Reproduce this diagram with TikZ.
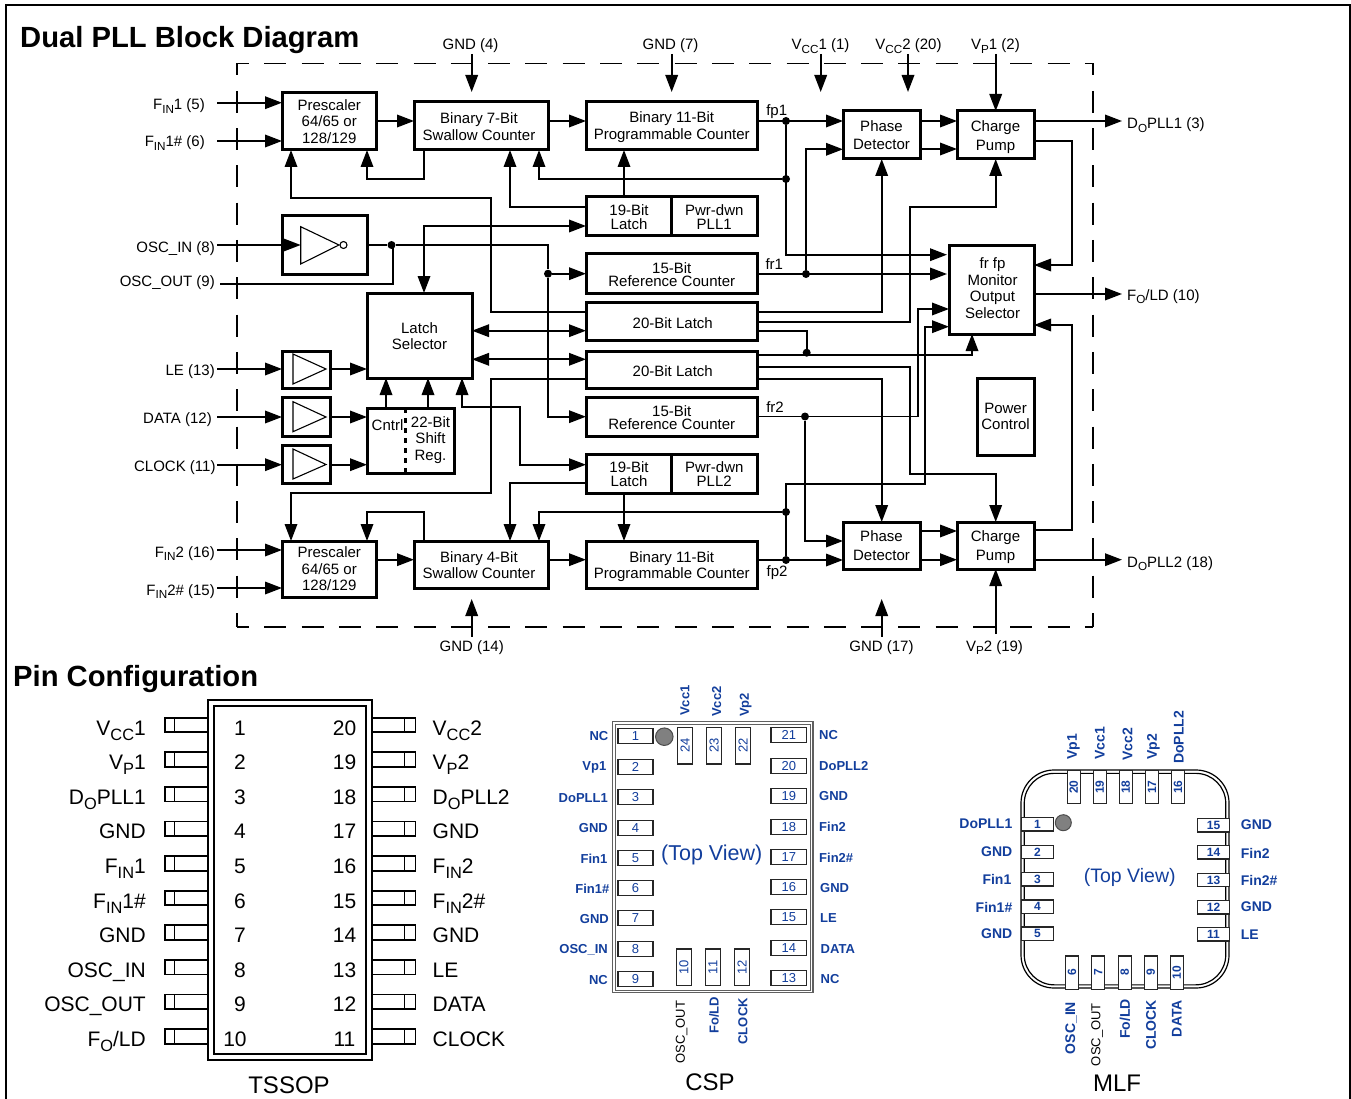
\documentclass[tikz,border=0pt]{standalone}
\usepackage{fontspec}
\setmainfont{Liberation Sans}
\usetikzlibrary{arrows.meta,calc}
\definecolor{pinblue}{HTML}{123E9C}
\definecolor{dotgrey}{HTML}{808080}
\definecolor{pkggrey}{HTML}{606060}
\newcommand{\sbx}[1]{\raisebox{-0.24em}{\scalebox{0.78}{#1}}}
% box from corner coordinates; optional keys act on its text
\newcommand{\bx}[7][]{%
  \pgfmathsetmacro{\bxw}{#5-#3}\pgfmathsetmacro{\bxh}{#6-#4}%
  \node[blk,minimum width=\bxw pt,minimum height=\bxh pt] (#2) at ({(#3+#5)/2},{(#4+#6)/2}) {};
  \node[blktext,#1] (#2-t) at (#2.center) {#7};}
\newcommand{\pad}[6]{%
  \pgfmathsetmacro{\bxw}{#4-#2}\pgfmathsetmacro{\bxh}{#5-#3}%
  \node[padbox,minimum width=\bxw pt,minimum height=\bxh pt] (#1) at ({(#2+#4)/2},{(#3+#5)/2}) {#6};}
\newcommand{\vpad}[6]{%
  \pgfmathsetmacro{\bxw}{#4-#2}\pgfmathsetmacro{\bxh}{#5-#3}%
  \node[padbox,minimum width=\bxw pt,minimum height=\bxh pt] (#1) at ({(#2+#4)/2},{(#3+#5)/2}) {\rotatebox{90}{#6}};}
\newcommand{\mpadh}[6]{%
  \pgfmathsetmacro{\bxw}{#4-#2}\pgfmathsetmacro{\bxh}{#5-#3}%
  \node[padbox,mfont,minimum width=\bxw pt,minimum height=\bxh pt] (#1) at ({(#2+#4)/2},{(#3+#5)/2}) {#6};}
\newcommand{\mpadv}[6]{%
  \pgfmathsetmacro{\bxw}{#4-#2}\pgfmathsetmacro{\bxh}{#5-#3}%
  \node[padbox,mfont,minimum width=\bxw pt,minimum height=\bxh pt] (#1) at ({(#2+#4)/2},{(#3+#5)/2}) {\rotatebox{90}{#6}};}
% one row of the TSSOP: index, left label, left number, number x, right number, right label
\newcommand{\tsrow}[6]{%
  \pgfmathsetmacro{\yc}{725+34.6*(#1-1)}%
  \node[tslab,anchor=base east] (tl#3) at (146,\yc+10) {#2};
  \node[tslab,anchor=base] (tn#3) at (#4,\yc+10) {#3};
  \node[tslab,anchor=base] (tm#5) at (344.5,\yc+10) {#5};
  \node[tslab,anchor=base west] (tr#5) at (432.5,\yc+10) {#6};
  \draw[pinline] (tsout.west |- 0,\yc-7.3) -- (165,\yc-7.3) -- (165,\yc+7.3) -- (tsout.west |- 0,\yc+7.3) (174.5,\yc-7.3) -- (174.5,\yc+7.3);
  \draw[pinline] (tsout.east |- 0,\yc-7.3) -- (415.5,\yc-7.3) -- (415.5,\yc+7.3) -- (tsout.east |- 0,\yc+7.3) (404.5,\yc-7.3) -- (404.5,\yc+7.3);}
\tikzset{
  lh/.style={font=\fontsize{15}{#1}\selectfont},
  blk/.style={draw=black,line width=3pt,inner sep=0pt,outer sep=0pt},
  blktext/.style={inner sep=0pt,outer sep=0pt,align=center,lh=16},
  arr/.style={line width=1.8pt,-{Triangle[length=17pt,width=12.5pt]}},
  dbl/.style={line width=1.8pt,{Triangle[length=17pt,width=12.5pt]}-{Triangle[length=17pt,width=12.5pt]}},
  wire/.style={line width=1.8pt},
  dot/.style={circle,fill=black,inner sep=0pt,minimum size=8pt},
  lab/.style={font=\fontsize{15}{16}\selectfont,inner sep=0pt},
  dashfr/.style={line width=1.4pt,dash pattern=on 22pt off 15.3pt,dash phase=10pt},
  tri/.style={line width=1.1pt,fill=white,line join=miter},
  tslab/.style={font=\fontsize{21}{22}\selectfont,inner sep=0pt},
  pinline/.style={line width=1.7pt},
  padbox/.style={draw=black!85,line width=1.1pt,inner sep=0pt,outer sep=0pt,fill=white,text=pinblue,font=\fontsize{13}{14}\selectfont},
  mfont/.style={font=\bfseries\fontsize{12}{13}\selectfont},
  blab/.style={text=pinblue,font=\bfseries\fontsize{13}{14}\selectfont,inner sep=0pt},
  mlab/.style={text=pinblue,font=\bfseries\fontsize{14}{15}\selectfont,inner sep=0pt},
  glab/.style={font=\fontsize{13}{14}\selectfont,inner sep=0pt},
  pkg/.style={font=\fontsize{24}{25}\selectfont,inner sep=0pt},
}
\begin{document}
\begin{tikzpicture}[x=1pt,y=-1pt]
\useasboundingbox (0,0) rectangle (1351,1099);
% page frame (open at the bottom)
\draw[line width=2pt] (6,1099) -- (6,5) -- (1350,5) -- (1350,1099);
% titles
\node[anchor=base west,inner sep=0pt,font=\bfseries\fontsize{29.2}{30}\selectfont] (title1) at (20,48) {Dual PLL Block Diagram};
\node[anchor=base west,inner sep=0pt,font=\bfseries\fontsize{29.2}{30}\selectfont] (title2) at (13,686) {Pin Configuration};
% dashed chip outline
\coordinate (dtl) at (237,63.5);\coordinate (dtr) at (1093,63.5);\coordinate (dbl) at (237,627);\coordinate (dbr) at (1093,627);
\draw[dashfr] (dtl) -- (dtr);\draw[dashfr] (dtl) -- (dbl);\draw[dashfr] (dbl) -- (dbr);\draw[dashfr] (dtr) -- (dbr);
% blocks
\bx[lh=16.5]{pre1}{282}{93}{376.5}{150}{Prescaler\\64/65 or\\128/129}
\bx[lh=17,xshift=-2pt,yshift=-1pt]{sw1}{414}{102}{548}{150}{Binary 7-Bit\\Swallow Counter}
\bx[lh=17,yshift=-1.5pt]{pc1}{586}{102}{757.5}{150}{Binary 11-Bit\\Programmable Counter}
\bx{inv}{282}{216}{367.5}{274}{}
\bx[yshift=-1pt]{sel}{367}{293}{472}{378}{Latch\\Selector}
\bx[lh=14,xshift=.5pt,yshift=-1pt]{lt1}{586}{197}{671}{235.5}{19-Bit\\Latch}
\bx[lh=14,yshift=-1pt]{pd1}{671}{197}{757.5}{235.5}{Pwr-dwn\\PLL1}
\bx[lh=13,yshift=-1pt]{ref1}{586}{254}{757.5}{293}{15-Bit\\Reference Counter}
\bx[xshift=1pt,yshift=-1.5pt]{lat1}{586}{302.5}{757.5}{340.5}{20-Bit Latch}
\bx[xshift=1pt,yshift=-1pt]{lat2}{586}{351}{757.5}{388.5}{20-Bit Latch}
\bx[lh=13,yshift=-1pt]{ref2}{586}{397}{757.5}{436}{15-Bit\\Reference Counter}
\bx[lh=14,xshift=.5pt,yshift=-1pt]{lt2}{586}{454}{671}{493}{19-Bit\\Latch}
\bx[lh=14,yshift=-1pt]{pd2}{671}{454}{757.5}{493}{Pwr-dwn\\PLL2}
\bx[lh=16,yshift=-2pt]{pc2}{586}{541}{757.5}{588}{Binary 11-Bit\\Programmable Counter}
\bx[lh=16.5]{pre2}{282}{541}{376.5}{597}{Prescaler\\64/65 or\\128/129}
\bx[lh=16,xshift=-2pt,yshift=-1pt]{sw2}{414}{541}{548}{588}{Binary 4-Bit\\Swallow Counter}
\bx[lh=18.5]{ph1}{843}{111}{920}{159}{Phase\\Detector}
\bx[lh=18.5,yshift=-2pt]{cp1}{957}{111}{1034}{159}{Charge\\Pump}
\bx[lh=18.5]{ph2}{843}{522}{920}{569}{Phase\\Detector}
\bx[lh=18.5,yshift=-1.5pt]{cp2}{957}{522}{1034}{569}{Charge\\Pump}
\bx[lh=16.5,xshift=1pt,yshift=2pt]{mon}{949}{246}{1034}{334}{fr fp\\Monitor\\Output\\Selector}
\bx[lh=16.5]{pwr}{977}{378}{1034}{455}{Power\\Control}
\bx{buf1}{282}{351}{330}{388}{}
\bx{buf2}{282}{397}{330}{436}{}
\bx{buf3}{282}{445}{330}{483}{}
\bx{shr}{367}{408}{454}{473}{}
\node[lab] (cntrl) at (387.5,425) {Cntrl};
\node[lab,align=center,lh=16.7] (sreg) at (430.5,440) {22-Bit\\Shift\\Reg.};
\draw[line width=3pt,dash pattern=on 5pt off 5pt] (shr.north -| 405.7,0) -- (shr.south -| 405.7,0);
% buffer triangles
\draw[tri] (300.7,226.7) -- (339,245) -- (300.7,264) -- cycle;
\node[circle,draw,line width=1.1pt,minimum size=7pt,inner sep=0pt] (bub) at (343.5,245) {};
\draw[tri] (293,354) -- (326,369) -- (293,384) -- cycle;
\draw[tri] (293,401.7) -- (326,417) -- (293,431.7) -- cycle;
\draw[tri] (293,449) -- (326,464.5) -- (293,479) -- cycle;
% junctions
\node[dot] (j1) at (786,121) {};
\node[dot] (j2) at (786,179) {};
\node[dot] (j3) at (806,274) {};
\node[dot] (j4) at (391.5,245) {};
\node[dot] (j5) at (548,273.7) {};
\node[dot] (j6) at (806.7,352.7) {};
\node[dot] (j7) at (805,416.5) {};
\node[dot] (j8) at (786,512) {};
\node[dot] (j9) at (786,560) {};
% pin stubs, free ends
\coordinate (sfin1) at (217,102.7);\coordinate (sfin1n) at (217,141);
\coordinate (sosci) at (217,245);\coordinate (sosco) at (220,284);
\coordinate (sle) at (217,369);\coordinate (sdata) at (217,417);\coordinate (sclk) at (217,464.7);
\coordinate (sfin2) at (217,550);\coordinate (sfin2n) at (217,588);
\coordinate (sg4) at (471.7,54);\coordinate (tg4) at (471.7,92);
\coordinate (sg7) at (671.7,54);\coordinate (tg7) at (671.7,92);
\coordinate (svc1) at (820.7,54);\coordinate (tvc1) at (820.7,92);
\coordinate (svc2) at (908,54);\coordinate (tvc2) at (908,92);
\coordinate (svp1) at (995.7,54);
\coordinate (sg14) at (471.7,636.7);\coordinate (tg14) at (471.7,599);
\coordinate (sg17) at (881.7,636.7);\coordinate (tg17) at (881.7,599);
\coordinate (svp2) at (995.7,634);
\coordinate (odo1) at (1122,121);\coordinate (ofo) at (1122,294);\coordinate (odo2) at (1122,559.7);
% input pins
\draw[arr] (sfin1) -- (pre1.west |- sfin1);
\draw[arr] (sfin1n) -- (pre1.west |- sfin1n);
\draw[arr] (sosci) -- (300.7,245);
\draw[wire] (sosco) -- (393,284) -- (393,245);
\draw[arr] (sle) -- (buf1.west |- sle);
\draw[arr] (sdata) -- (buf2.west |- sdata);
\draw[arr] (sclk) -- (buf3.west |- sclk);
\draw[arr] (sfin2) -- (pre2.west |- sfin2);
\draw[arr] (sfin2n) -- (pre2.west |- sfin2n);
\draw[arr] (sg4) -- (tg4);\draw[arr] (sg7) -- (tg7);\draw[arr] (svc1) -- (tvc1);\draw[arr] (svc2) -- (tvc2);
\draw[arr] (svp1) -- (cp1.north -| svp1);
\draw[arr] (sg14) -- (tg14);\draw[arr] (sg17) -- (tg17);
\draw[arr] (svp2) -- (cp2.south -| svp2);
% counter chains
\draw[arr] (pre1.east |- 0,121) -- (sw1.west |- 0,121);
\draw[arr] (sw1.east |- 0,121) -- (pc1.west |- 0,121);
\draw[arr] (pre2.east |- 0,559.7) -- (sw2.west |- 0,559.7);
\draw[arr] (sw2.east |- 0,559.7) -- (pc2.west |- 0,559.7);
% feedback loops
\draw[arr] (sw1.south -| 424,0) -- (424,179) -- (367,179) -- (pre1.south -| 367,0);
\draw[arr] (sw2.north -| 424,0) -- (424,512) -- (367,512) -- (pre2.north -| 367,0);
\draw[arr] (j2) -- (539,179) -- (sw1.south -| 539,0);
\draw[arr] (j8) -- (539,512) -- (sw2.north -| 539,0);
% latch links
\draw[arr] (lt1.north -| 624,0) -- (pc1.south -| 624,0);
\draw[arr] (lt2.south -| 624,0) -- (pc2.north -| 624,0);
\draw[arr] (lt1.west |- 0,206.7) -- (510,206.7) -- (sw1.south -| 510,0);
\draw[arr] (lt2.west |- 0,483) -- (510,483) -- (sw2.north -| 510,0);
\draw[arr] (lat1.west |- 0,311.7) -- (491,311.7) -- (491,197.7) -- (291,197.7) -- (pre1.south -| 291,0);
\draw[arr] (lat2.west |- 0,379) -- (491,379) -- (491,493) -- (291,493) -- (pre2.north -| 291,0);
\draw[dbl] (sel.north -| 424,0) -- (424,226) -- (lt1.west |- 0,226);
\draw[dbl] (sel.east |- 0,330.7) -- (lat1.west |- 0,330.7);
\draw[dbl] (sel.east |- 0,359.3) -- (lat2.west |- 0,359.3);
\draw[dbl] (lt2.west |- 0,464.7) -- (520,464.7) -- (520,406.7) -- (462,406.7) -- (sel.south -| 462,0);
\draw[arr] (shr.north -| 386,0) -- (sel.south -| 386,0);
\draw[arr] (shr.north -| 428,0) -- (sel.south -| 428,0);
% buffers to logic
\draw[arr] (buf1.east |- sle) -- (sel.west |- sle);
\draw[arr] (buf2.east |- sdata) -- (shr.west |- sdata);
\draw[arr] (buf3.east |- sclk) -- (shr.west |- sclk);
% oscillator
\draw[wire] (inv.east |- j4) -- (j4) -- (548,245) -- (j5);
\draw[arr] (j5) -- (ref1.west |- j5);
\draw[arr] (j5) -- (548,416.7) -- (ref2.west |- 0,416.7);
% phase detector 1 inputs
\draw[arr] (pc1.east |- j1) -- (ph1.west |- j1);
\draw[arr,shorten >=2pt] (j1) -- (786,254.7) -- (mon.west |- 0,254.7);
\draw[arr,shorten >=2pt] (ref1.east |- j3) -- (mon.west |- j3);
\draw[arr] (j3) -- (806,149.3) -- (ph1.west |- 0,149.3);
\draw[arr] (lat1.east |- 0,311.7) -- (881.7,311.7) -- (ph1.south -| 881.7,0);
\draw[arr] (lat1.east |- 0,322.3) -- (910,322.3) -- (910,206.7) -- (995.7,206.7) -- (cp1.south -| 995.7,0);
\draw[wire] (lat1.east |- 0,331) -- (806.7,331) -- (j6);
\draw[arr] (lat2.east |- 0,355) -- (972,355) -- (mon.south -| 972,0);
\draw[arr] (lat2.east |- 0,366.7) -- (910,366.7) -- (910,474) -- (995.7,474) -- (cp2.north -| 995.7,0);
\draw[arr] (lat2.east |- 0,378.7) -- (881.7,378.7) -- (ph2.north -| 881.7,0);
% reference 2 and fp2
\draw[arr] (ref2.east |- j7) -- (918,416.5) -- (918,309) -- (mon.west |- 0,309);
\draw[arr] (j7) -- (805,541) -- (ph2.west |- 0,541);
\draw[arr] (pc2.east |- j9) -- (ph2.west |- j9);
\draw[arr] (j9) -- (786,484) -- (925,484) -- (925,326.7) -- (mon.west |- 0,326.7);
% detector to pump
\draw[arr] (ph1.east |- 0,121) -- (cp1.west |- 0,121);
\draw[arr] (ph1.east |- 0,149) -- (cp1.west |- 0,149);
\draw[arr] (ph2.east |- 0,531) -- (cp2.west |- 0,531);
\draw[arr] (ph2.east |- 0,559.7) -- (cp2.west |- 0,559.7);
% outputs
\draw[arr] (cp1.east |- odo1) -- (odo1);
\draw[arr] (mon.east |- ofo) -- (ofo);
\draw[arr] (cp2.east |- odo2) -- (odo2);
\draw[arr] (cp1.east |- 0,140.7) -- (1072,140.7) -- (1072,265) -- (mon.east |- 0,265);
\draw[arr] (cp2.east |- 0,530) -- (1072,530) -- (1072,325) -- (mon.east |- 0,325);
% pin labels of the block diagram
\node[lab,anchor=base east] (lf1) at (205,109.5) {F\sbx{IN}1 (5)};
\node[lab,anchor=base east] (lf1n) at (205,147) {F\sbx{IN}1\# (6)};
\node[lab,anchor=base east] (losci) at (215,252.5) {OSC\_IN (8)};
\node[lab,anchor=base east] (losco) at (215,286) {OSC\_OUT (9)};
\node[lab,anchor=base east] (lle) at (215,375.5) {LE (13)};
\node[lab,anchor=base east] (ldata) at (212,423) {DATA (12)};
\node[lab,anchor=base east] (lclk) at (215.7,471) {CLOCK (11)};
\node[lab,anchor=base east] (lf2) at (215,557) {F\sbx{IN}2 (16)};
\node[lab,anchor=base east] (lf2n) at (215,595) {F\sbx{IN}2\# (15)};
\node[lab,anchor=base] (lg4) at (470.5,49.5) {GND (4)};
\node[lab,anchor=base] (lg7) at (670.5,49.5) {GND (7)};
\node[lab,anchor=base] (lvc1) at (820.5,49.5) {V\sbx{CC}1 (1)};
\node[lab,anchor=base] (lvc2) at (908.5,49.5) {V\sbx{CC}2 (20)};
\node[lab,anchor=base] (lvp1) at (995.5,49.5) {V\sbx{P}1 (2)};
\node[lab,anchor=base] (lg14) at (471.7,651) {GND (14)};
\node[lab,anchor=base] (lg17) at (881.5,651) {GND (17)};
\node[lab,anchor=base] (lvp2) at (994.5,651) {V\sbx{P}2 (19)};
\node[lab,anchor=base west] (ldo1) at (1127,129) {D\sbx{O}PLL1 (3)};
\node[lab,anchor=base west] (lfo) at (1127,300) {F\sbx{O}/LD (10)};
\node[lab,anchor=base west] (ldo2) at (1127,567) {D\sbx{O}PLL2 (18)};
\node[lab] (fp1) at (776.7,111.5) {fp1};
\node[lab] (fr1) at (774.3,263.7) {fr1};
\node[lab] (fr2) at (775,407) {fr2};
\node[lab] (fp2) at (777,572.5) {fp2};
% TSSOP
\node[draw,line width=2pt,minimum width=164pt,minimum height=360pt,outer sep=0pt,inner sep=0pt] (tsout) at (290,880) {};
\node[draw,line width=2pt,minimum width=151.5pt,minimum height=348.5pt,outer sep=0pt,inner sep=0pt] (tsin) at (290.2,880.2) {};
\tsrow{1}{V\sbx{CC}1}{1}{240}{20}{V\sbx{CC}2}
\tsrow{2}{V\sbx{P}1}{2}{240}{19}{V\sbx{P}2}
\tsrow{3}{D\sbx{O}PLL1}{3}{240}{18}{D\sbx{O}PLL2}
\tsrow{4}{GND}{4}{240}{17}{GND}
\tsrow{5}{F\sbx{IN}1}{5}{240}{16}{F\sbx{IN}2}
\tsrow{6}{F\sbx{IN}1\#}{6}{240}{15}{F\sbx{IN}2\#}
\tsrow{7}{GND}{7}{240}{14}{GND}
\tsrow{8}{OSC\_IN}{8}{240}{13}{LE}
\tsrow{9}{OSC\_OUT}{9}{240}{12}{DATA}
\tsrow{10}{F\sbx{O}/LD}{10}{235}{11}{CLOCK}
\node[pkg] (tssop) at (289,1085) {TSSOP};
% CSP
\node[draw=pkggrey,line width=1.3pt,minimum width=200.5pt,minimum height=271pt,inner sep=0pt] (cspo) at (712.8,857.2) {};
\node[draw=pkggrey,line width=1.3pt,minimum width=195.5pt,minimum height=266pt,inner sep=0pt] (cspi) at (713,857.2) {};
\pad{c1}{618}{728.2}{653}{743.2}{1}
\pad{c2}{618}{759.2}{653}{774.2}{2}
\pad{c3}{618}{789.5}{653}{804.5}{3}
\pad{c4}{618}{820.5}{653}{835.5}{4}
\pad{c5}{618}{850.5}{653}{865.5}{5}
\pad{c6}{618}{880.8}{653}{895.8}{6}
\pad{c7}{618}{910.8}{653}{925.8}{7}
\pad{c8}{618}{941.2}{653}{956.2}{8}
\pad{c9}{618}{971.8}{653}{986.8}{9}
\pad{c21}{771}{727.8}{806.7}{742.8}{21}
\pad{c20}{771}{758.5}{806.7}{773.5}{20}
\pad{c19}{771}{788.5}{806.7}{803.5}{19}
\pad{c18}{771}{819.2}{806.7}{834.2}{18}
\pad{c17}{771}{849.5}{806.7}{864.5}{17}
\pad{c16}{771}{879.5}{806.7}{894.5}{16}
\pad{c15}{771}{909.8}{806.7}{924.8}{15}
\pad{c14}{771}{940.5}{806.7}{955.5}{14}
\pad{c13}{771}{970.5}{806.7}{985.5}{13}
\vpad{c24}{677.7}{727.3}{692.7}{764}{24}
\vpad{c23}{706.7}{727.3}{721.7}{764}{23}
\vpad{c22}{735.7}{727.3}{750.7}{764}{22}
\vpad{c10}{676.3}{949}{691.3}{985.7}{10}
\vpad{c11}{705.3}{949}{720.3}{985.7}{11}
\vpad{c12}{734.7}{949}{749.3}{985.7}{12}
\node[circle,draw=black!70,fill=dotgrey,line width=1pt,minimum size=17.5pt,inner sep=0pt] (cdot) at (664.3,736.7) {};
\node[text=pinblue,inner sep=0pt,font=\fontsize{21.5}{22}\selectfont] (ctop) at (711.7,855) {(Top View)};
\node[blab,anchor=east] (cl1) at (608.5,736) {NC};
\node[blab,anchor=east] (cl2) at (606.5,767) {Vp1};
\node[blab,anchor=east] (cl3) at (608,798) {DoPLL1};
\node[blab,anchor=east] (cl4) at (608,828.5) {GND};
\node[blab,anchor=east] (cl5) at (607.5,858.5) {Fin1};
\node[blab,anchor=east] (cl6) at (609.5,888.5) {Fin1\#};
\node[blab,anchor=east] (cl7) at (609,919) {GND};
\node[blab,anchor=east] (cl8) at (608,950) {OSC\_IN};
\node[blab,anchor=east] (cl9) at (608,980) {NC};
\node[blab,anchor=west] (cr1) at (819,735.5) {NC};
\node[blab,anchor=west] (cr2) at (819,766) {DoPLL2};
\node[blab,anchor=west] (cr3) at (819,796) {GND};
\node[blab,anchor=west] (cr4) at (819,827) {Fin2};
\node[blab,anchor=west] (cr5) at (819,858) {Fin2\#};
\node[blab,anchor=west] (cr6) at (820,888) {GND};
\node[blab,anchor=west] (cr7) at (820,918) {LE};
\node[blab,anchor=west] (cr8) at (820.5,949) {DATA};
\node[blab,anchor=west] (cr9) at (820.5,979) {NC};
\node[blab,rotate=90,anchor=west] (ct1) at (685,716) {Vcc1};
\node[blab,rotate=90,anchor=west] (ct2) at (716.7,717) {Vcc2};
\node[blab,rotate=90,anchor=west] (ct3) at (745.7,717) {Vp2};
\node[glab,rotate=90,anchor=east] (cb1) at (681.7,1000.7) {OSC\_OUT};
\node[blab,rotate=90,anchor=east] (cb2) at (714,996.7) {Fo/LD};
\node[blab,rotate=90,anchor=east] (cb3) at (743,998) {CLOCK};
\node[pkg] (csp) at (710,1082) {CSP};
% MLF
\node[draw,line width=1.2pt,rounded corners=33pt,minimum width=208pt,minimum height=218pt,inner sep=0pt] (mlfo) at (1125,879) {};
\node[draw,line width=1.2pt,rounded corners=30pt,minimum width=201.5pt,minimum height=211.5pt,inner sep=0pt] (mlfi) at (1125,879.1) {};
\mpadh{m1}{1021.7}{817.6}{1053.3}{831}{1}
\mpadh{m2}{1021.7}{845.3}{1053.3}{858.7}{2}
\mpadh{m3}{1021.7}{872.6}{1053.3}{886}{3}
\mpadh{m4}{1021.7}{900}{1053.3}{913.4}{4}
\mpadh{m5}{1021.7}{927}{1053.3}{940.4}{5}
\mpadh{m15}{1197.7}{818.6}{1229.3}{832}{15}
\mpadh{m14}{1197.7}{845.6}{1229.3}{859}{14}
\mpadh{m13}{1197.7}{873.3}{1229.3}{886.7}{13}
\mpadh{m12}{1197.7}{900.6}{1229.3}{914}{12}
\mpadh{m11}{1197.7}{927.6}{1229.3}{941}{11}
\mpadv{m20}{1067.2}{770.7}{1080.2}{803.7}{20}
\mpadv{m19}{1093.2}{770.7}{1106.2}{803.7}{19}
\mpadv{m18}{1119.2}{770.7}{1132.2}{803.7}{18}
\mpadv{m17}{1145.5}{770.7}{1158.5}{803.7}{17}
\mpadv{m16}{1171.5}{770.7}{1184.5}{803.7}{16}
\mpadv{m6}{1065.5}{956}{1078.5}{989.3}{6}
\mpadv{m7}{1091.8}{956}{1104.8}{989.3}{7}
\mpadv{m8}{1118.2}{956}{1131.2}{989.3}{8}
\mpadv{m9}{1144.2}{956}{1157.2}{989.3}{9}
\mpadv{m10}{1170.2}{956}{1183.2}{989.3}{10}
\node[circle,draw=black!70,fill=dotgrey,line width=1pt,minimum size=16pt,inner sep=0pt] (mdot) at (1063.3,822.7) {};
\node[text=pinblue,inner sep=0pt,font=\fontsize{19.5}{20}\selectfont] (mtop) at (1129.7,877.5) {(Top View)};
\node[mlab,anchor=east] (ml1) at (1012.5,824) {DoPLL1};
\node[mlab,anchor=east] (ml2) at (1012.5,852) {GND};
\node[mlab,anchor=east] (ml3) at (1011.5,879) {Fin1};
\node[mlab,anchor=east] (ml4) at (1012.5,907) {Fin1\#};
\node[mlab,anchor=east] (ml5) at (1012.5,934) {GND};
\node[mlab,anchor=west] (mr1) at (1240.7,825) {GND};
\node[mlab,anchor=west] (mr2) at (1240.7,853) {Fin2};
\node[mlab,anchor=west] (mr3) at (1240.7,880) {Fin2\#};
\node[mlab,anchor=west] (mr4) at (1240.7,907) {GND};
\node[mlab,anchor=west] (mr5) at (1240.7,935) {LE};
\node[mlab,rotate=90,anchor=west] (mt1) at (1073.5,760) {Vp1};
\node[mlab,rotate=90,anchor=west] (mt2) at (1099.8,760) {Vcc1};
\node[mlab,rotate=90,anchor=west] (mt3) at (1127.5,761) {Vcc2};
\node[mlab,rotate=90,anchor=west] (mt4) at (1153.5,760) {Vp2};
\node[mlab,rotate=90,anchor=west] (mt5) at (1178.7,764) {DoPLL2};
\node[mlab,rotate=90,anchor=east] (mb1) at (1071,1001.7) {OSC\_IN};
\node[glab,rotate=90,anchor=east] (mb2) at (1097,1003) {OSC\_OUT};
\node[mlab,rotate=90,anchor=east] (mb3) at (1125,999) {Fo/LD};
\node[mlab,rotate=90,anchor=east] (mb4) at (1151,1000) {CLOCK};
\node[mlab,rotate=90,anchor=east] (mb5) at (1176.7,1000) {DATA};
\node[pkg] (mlf) at (1117,1083) {MLF};
\end{tikzpicture}
\end{document}
